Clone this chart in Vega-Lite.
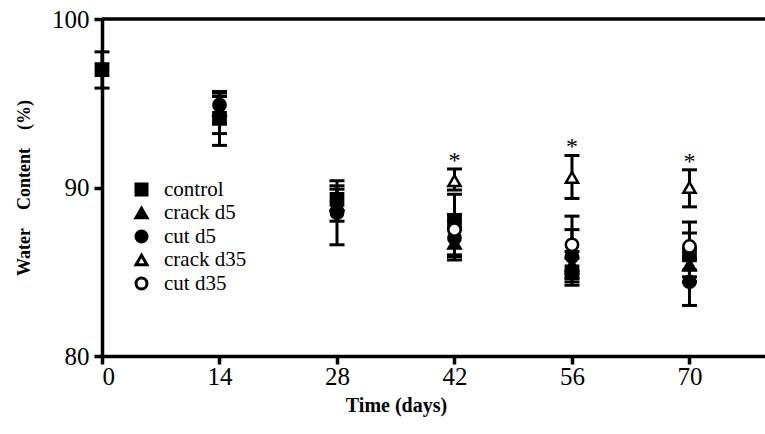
{
  "$schema": "https://vega.github.io/schema/vega-lite/v6.json",
  "width": 663,
  "height": 337,
  "autosize": {"type": "none"},
  "padding": {"left": 102, "top": 19, "right": 0, "bottom": 78},
  "background": "white",
  "config": {
    "view": {"stroke": null},
    "font": "Liberation Serif",
    "axis": {"labelFont": "Liberation Serif", "titleFont": "Liberation Serif"},
    "legend": {"labelFont": "Liberation Serif"},
    "text": {"font": "Liberation Serif"}
  },
  "datasets": {
    "wc": [
      {"group": "control", "day": 0, "mean": 97.0, "lo": 95.9, "hi": 98.05},
      {"group": "control", "day": 14, "mean": 94.1, "lo": 92.5, "hi": 95.7},
      {"group": "crack d5", "day": 14, "mean": 94.6, "lo": 93.8, "hi": 95.4},
      {"group": "cut d5", "day": 14, "mean": 94.9, "lo": 93.2, "hi": 95.6},
      {"group": "control", "day": 28, "mean": 89.3, "lo": 88.6, "hi": 90.4},
      {"group": "crack d5", "day": 28, "mean": 89.0, "lo": 88.0, "hi": 90.1},
      {"group": "cut d5", "day": 28, "mean": 88.5, "lo": 86.6, "hi": 89.9},
      {"group": "control", "day": 42, "mean": 88.0, "lo": 87.6, "hi": 88.4},
      {"group": "crack d5", "day": 42, "mean": 86.7, "lo": 85.9, "hi": 87.5},
      {"group": "cut d5", "day": 42, "mean": 87.0, "lo": 86.0, "hi": 88.0},
      {"group": "crack d35", "day": 42, "mean": 90.4, "lo": 89.85, "hi": 91.1},
      {"group": "cut d35", "day": 42, "mean": 87.5, "lo": 85.7, "hi": 89.6},
      {"group": "control", "day": 56, "mean": 85.0, "lo": 84.2, "hi": 85.8},
      {"group": "crack d5", "day": 56, "mean": 85.4, "lo": 84.6, "hi": 86.2},
      {"group": "cut d5", "day": 56, "mean": 85.9, "lo": 84.4, "hi": 87.5},
      {"group": "crack d35", "day": 56, "mean": 90.6, "lo": 89.35, "hi": 91.9},
      {"group": "cut d35", "day": 56, "mean": 86.6, "lo": 84.9, "hi": 88.3},
      {"group": "control", "day": 70, "mean": 86.0, "lo": 84.7, "hi": 87.3},
      {"group": "crack d5", "day": 70, "mean": 85.4, "lo": 84.4, "hi": 86.4},
      {"group": "cut d5", "day": 70, "mean": 84.4, "lo": 83.0, "hi": 85.8},
      {"group": "crack d35", "day": 70, "mean": 90.0, "lo": 88.85, "hi": 91.05},
      {"group": "cut d35", "day": 70, "mean": 86.5, "lo": 85.1, "hi": 87.95}
    ],
    "frame": [{"level": 100}]
  },
  "layer": [
    {
      "data": {"name": "frame"},
      "mark": {"type": "rule", "color": "black", "strokeWidth": 3.5},
      "encoding": {"y": {"field": "level", "type": "quantitative", "scale": {"domain": [80, 100], "nice": false}}}
    },
    {
      "data": {"name": "wc"},
      "mark": {"type": "rule", "color": "black", "strokeWidth": 3},
      "encoding": {
        "x": {"field": "day", "type": "quantitative"},
        "y": {"field": "lo", "type": "quantitative"},
        "y2": {"field": "hi"}
      }
    },
    {
      "data": {"name": "wc"},
      "mark": {"type": "tick", "orient": "horizontal", "color": "black", "thickness": 3, "size": 15, "opacity": 1},
      "encoding": {
        "x": {"field": "day", "type": "quantitative"},
        "y": {"field": "lo", "type": "quantitative"}
      }
    },
    {
      "data": {"name": "wc"},
      "mark": {"type": "tick", "orient": "horizontal", "color": "black", "thickness": 3, "size": 15, "opacity": 1},
      "encoding": {
        "x": {"field": "day", "type": "quantitative"},
        "y": {"field": "hi", "type": "quantitative"}
      }
    },
    {
      "data": {"name": "wc"},
      "mark": {"type": "point", "filled": true, "strokeWidth": 2.5, "opacity": 1, "size": 150},
      "encoding": {
        "x": {
          "field": "day", "type": "quantitative",
          "scale": {"domain": [0, 79], "nice": false},
          "axis": {
            "values": [0, 14, 28, 42, 56, 70], "grid": false,
            "domainColor": "black", "domainWidth": 3.5, "tickColor": "black", "tickWidth": 3.5, "tickSize": 8,
            "labelFontSize": 25, "labelColor": "black", "labelPadding": 0, "labelFont": "Liberation Serif",
            "title": "Time (days)", "titleFontSize": 20, "titleFontWeight": "bold", "titleColor": "black", "titlePadding": 6, "titleFont": "Liberation Serif",
            "titleX": 294
          }
        },
        "y": {
          "field": "mean", "type": "quantitative",
          "scale": {"domain": [80, 100], "nice": false},
          "axis": {
            "values": [80, 90, 100], "grid": false,
            "domainColor": "black", "domainWidth": 3.5, "tickColor": "black", "tickWidth": 3.5, "tickSize": 8,
            "labelFontSize": 25, "labelColor": "black", "labelPadding": 5, "labelFont": "Liberation Serif",
            "title": "Water\u2003Content\u2003(%)", "titleFontSize": 18, "titleFontWeight": "bold", "titleColor": "black", "titlePadding": 18, "titleFont": "Liberation Serif"
          }
        },
        "shape": {
          "field": "group", "type": "nominal",
          "scale": {"domain": ["control", "crack d5", "cut d5", "crack d35", "cut d35"], "range": ["square", "triangle-up", "circle", "triangle-up", "circle"]},
          "legend": {
            "orient": "none", "legendX": 29, "legendY": 160, "title": null, "padding": 0,
            "labelFontSize": 21, "labelFont": "Liberation Serif", "labelColor": "black", "labelOffset": 12,
            "symbolSize": 120, "rowPadding": 0.5, "symbolStrokeWidth": 3
          }
        },
        "fill": {
          "field": "group", "type": "nominal",
          "scale": {"domain": ["control", "crack d5", "cut d5", "crack d35", "cut d35"], "range": ["black", "black", "black", "white", "white"]},
          "legend": {
            "orient": "none", "legendX": 29, "legendY": 160, "title": null, "padding": 0,
            "labelFontSize": 21, "labelFont": "Liberation Serif", "labelColor": "black", "labelOffset": 12,
            "symbolSize": 120, "rowPadding": 0.5, "symbolStrokeWidth": 3
          }
        },
        "stroke": {
          "field": "group", "type": "nominal",
          "scale": {"domain": ["control", "crack d5", "cut d5", "crack d35", "cut d35"], "range": ["black", "black", "black", "black", "black"]},
          "legend": {
            "orient": "none", "legendX": 29, "legendY": 160, "title": null, "padding": 0,
            "labelFontSize": 21, "labelFont": "Liberation Serif", "labelColor": "black", "labelOffset": 12,
            "symbolSize": 120, "rowPadding": 0.5, "symbolStrokeWidth": 3
          }
        }
      }
    },
    {
      "data": {"name": "wc"},
      "transform": [{"filter": "datum.group === 'crack d35'"}],
      "mark": {"type": "text", "fontSize": 24, "font": "Liberation Serif", "color": "black", "baseline": "alphabetic", "dy": -1},
      "encoding": {
        "x": {"field": "day", "type": "quantitative"},
        "y": {"field": "hi", "type": "quantitative"},
        "text": {"value": "*"}
      }
    }
  ]
}
